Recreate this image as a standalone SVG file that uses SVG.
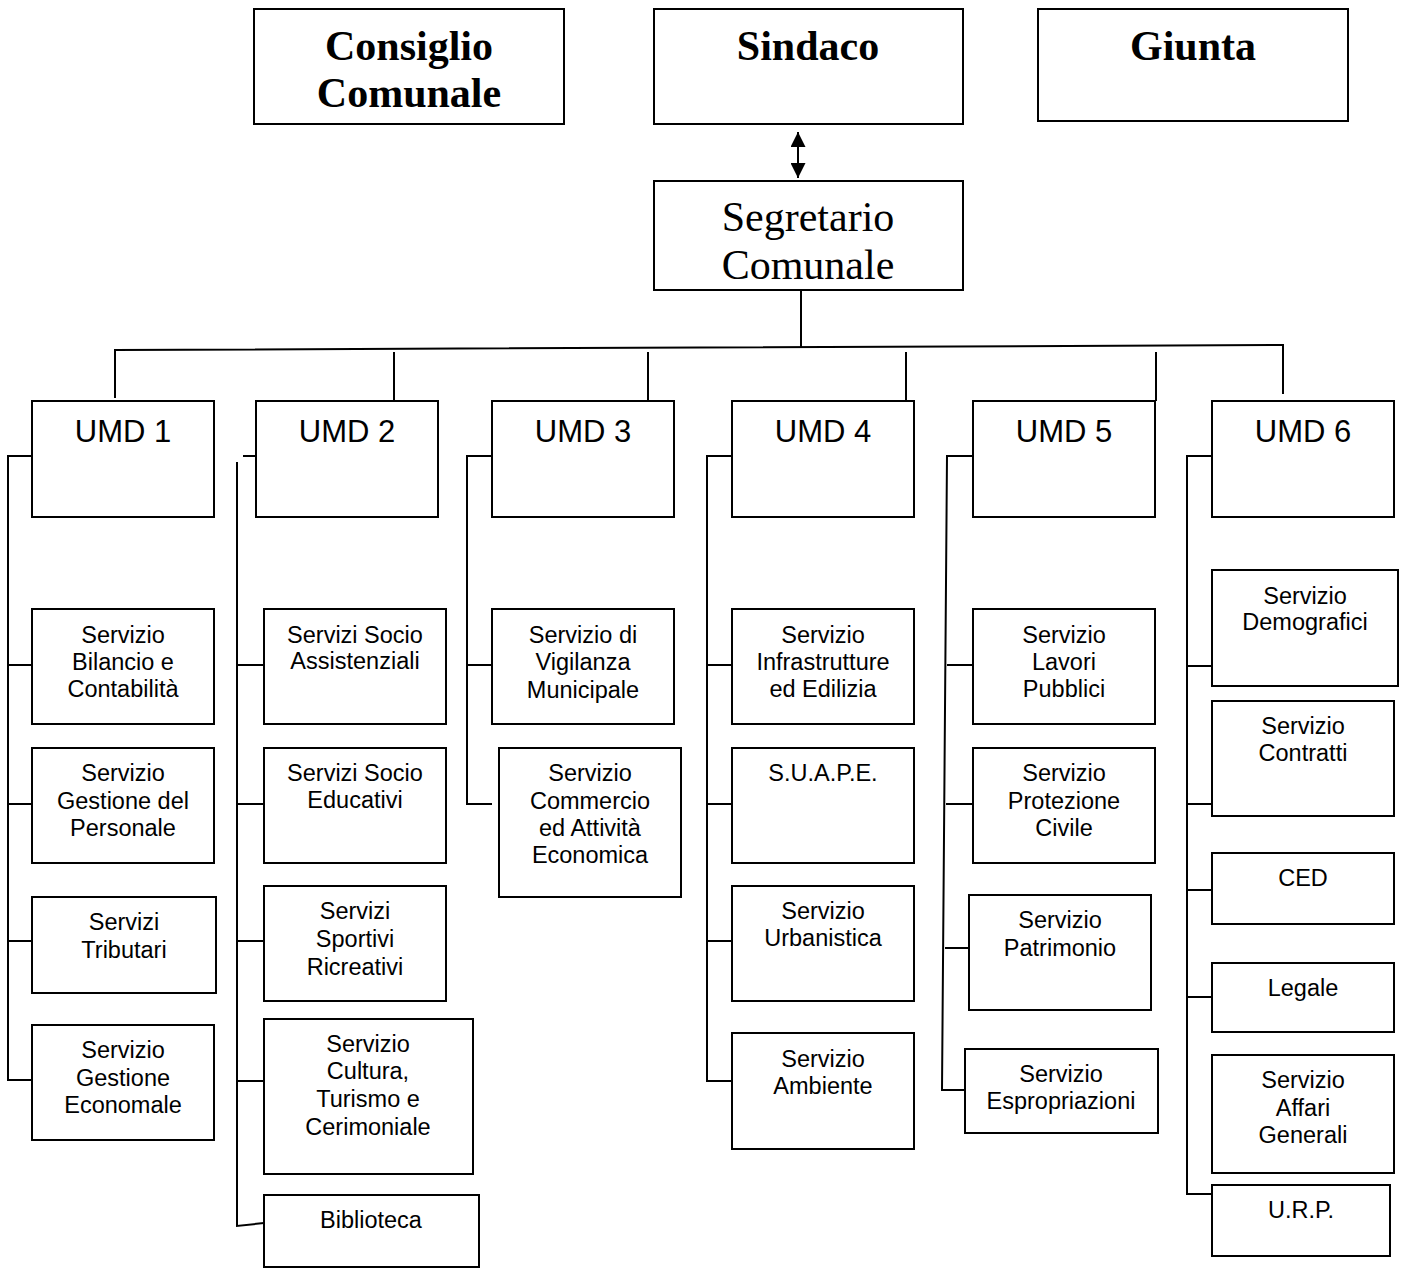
<svg xmlns="http://www.w3.org/2000/svg" width="1402" height="1268" viewBox="0 0 1402 1268">
<style>
.b{fill:#fff;stroke:#000;stroke-width:2}
.l{fill:none;stroke:#000;stroke-width:2}
.h{font-family:"Liberation Serif","Times New Roman",serif;font-size:42px;font-weight:bold;text-anchor:middle}
.s{font-family:"Liberation Serif","Times New Roman",serif;font-size:42px;text-anchor:middle}
.u{font-family:"Liberation Sans",Arial,sans-serif;font-size:31px;text-anchor:middle}
.t{font-family:"Liberation Sans",Arial,sans-serif;font-size:23.5px;text-anchor:middle}
</style>
<defs>
<marker id="ah" viewBox="0 0 10 10" refX="10" refY="5" markerWidth="15" markerHeight="15" markerUnits="userSpaceOnUse" orient="auto-start-reverse"><path d="M0,0 L10,5 L0,10 z" fill="#000"/></marker>
</defs>
<rect width="1402" height="1268" fill="#fff"/>
<g id="connectors">
<line class="l" x1="798" y1="132" x2="798" y2="178" marker-start="url(#ah)" marker-end="url(#ah)"/>
<line class="l" x1="801" y1="290" x2="801" y2="348"/>
<polyline class="l" points="115,398 115,350 1283,345 1283,394"/>
<line class="l" x1="394" y1="352" x2="394" y2="401"/>
<line class="l" x1="648" y1="352" x2="648" y2="401"/>
<line class="l" x1="906" y1="352" x2="906" y2="401"/>
<line class="l" x1="1156" y1="352" x2="1156" y2="401"/>
<polyline class="l" points="32,456 8,456 8,1080 32,1080"/>
<line class="l" x1="8" y1="665" x2="32" y2="665"/>
<line class="l" x1="8" y1="804" x2="32" y2="804"/>
<line class="l" x1="8" y1="941" x2="32" y2="941"/>
<line class="l" x1="243" y1="456" x2="270" y2="456"/>
<polyline class="l" points="237,462 237,1226 264,1223"/>
<line class="l" x1="237" y1="665" x2="264" y2="665"/>
<line class="l" x1="237" y1="804" x2="264" y2="804"/>
<line class="l" x1="237" y1="941" x2="264" y2="941"/>
<line class="l" x1="237" y1="1081" x2="264" y2="1081"/>
<polyline class="l" points="492,456 467,456 467,804 492,804"/>
<line class="l" x1="467" y1="665" x2="492" y2="665"/>
<polyline class="l" points="732,456 707,456 707,1081 732,1081"/>
<line class="l" x1="707" y1="665" x2="732" y2="665"/>
<line class="l" x1="707" y1="804" x2="732" y2="804"/>
<line class="l" x1="707" y1="941" x2="732" y2="941"/>
<polyline class="l" points="973,456 947,456 942,1090 965,1090"/>
<line class="l" x1="947" y1="665" x2="973" y2="665"/>
<line class="l" x1="946" y1="804" x2="973" y2="804"/>
<line class="l" x1="945" y1="948" x2="970" y2="948"/>
<polyline class="l" points="1212,456 1187,456 1187,1194 1212,1194"/>
<line class="l" x1="1187" y1="666" x2="1212" y2="666"/>
<line class="l" x1="1187" y1="804" x2="1212" y2="804"/>
<line class="l" x1="1187" y1="890" x2="1212" y2="890"/>
<line class="l" x1="1187" y1="997" x2="1212" y2="997"/>
</g>
<g id="consiglio"><rect class="b" x="254" y="9" width="310" height="115"/><text class="h" x="409" y="60">Consiglio</text><text class="h" x="409" y="107">Comunale</text></g>
<g id="sindaco"><rect class="b" x="654" y="9" width="309" height="115"/><text class="h" x="808" y="60">Sindaco</text></g>
<g id="giunta"><rect class="b" x="1038" y="9" width="310" height="112"/><text class="h" x="1193" y="60">Giunta</text></g>
<g id="segretario"><rect class="b" x="654" y="181" width="309" height="109"/><text class="s" x="808" y="231">Segretario</text><text class="s" x="808" y="279">Comunale</text></g>
<g id="umd1"><rect class="b" x="32" y="401" width="182" height="116"/><text class="u" x="123" y="442">UMD 1</text></g>
<g id="umd2"><rect class="b" x="256" y="401" width="182" height="116"/><text class="u" x="347" y="442">UMD 2</text></g>
<g id="umd3"><rect class="b" x="492" y="401" width="182" height="116"/><text class="u" x="583" y="442">UMD 3</text></g>
<g id="umd4"><rect class="b" x="732" y="401" width="182" height="116"/><text class="u" x="823" y="442">UMD 4</text></g>
<g id="umd5"><rect class="b" x="973" y="401" width="182" height="116"/><text class="u" x="1064" y="442">UMD 5</text></g>
<g id="umd6"><rect class="b" x="1212" y="401" width="182" height="116"/><text class="u" x="1303" y="442">UMD 6</text></g>

<g id="bilancio"><rect class="b" x="32" y="609" width="182" height="115"/><text class="t" x="123" y="643">Servizio</text><text class="t" x="123" y="670">Bilancio e</text><text class="t" x="123" y="697">Contabilità</text></g>
<g id="personale"><rect class="b" x="32" y="748" width="182" height="115"/><text class="t" x="123" y="781">Servizio</text><text class="t" x="123" y="809">Gestione del</text><text class="t" x="123" y="836">Personale</text></g>
<g id="tributari"><rect class="b" x="32" y="897" width="184" height="96"/><text class="t" x="124" y="930">Servizi</text><text class="t" x="124" y="958">Tributari</text></g>
<g id="economale"><rect class="b" x="32" y="1025" width="182" height="115"/><text class="t" x="123" y="1058">Servizio</text><text class="t" x="123" y="1086">Gestione</text><text class="t" x="123" y="1113">Economale</text></g>

<g id="assistenziali"><rect class="b" x="264" y="609" width="182" height="115"/><text class="t" x="355" y="643">Servizi Socio</text><text class="t" x="355" y="669">Assistenziali</text></g>
<g id="educativi"><rect class="b" x="264" y="748" width="182" height="115"/><text class="t" x="355" y="781">Servizi Socio</text><text class="t" x="355" y="808">Educativi</text></g>
<g id="sportivi"><rect class="b" x="264" y="886" width="182" height="115"/><text class="t" x="355" y="919">Servizi</text><text class="t" x="355" y="947">Sportivi</text><text class="t" x="355" y="975">Ricreativi</text></g>
<g id="cultura"><rect class="b" x="264" y="1019" width="209" height="155"/><text class="t" x="368" y="1052">Servizio</text><text class="t" x="368" y="1079">Cultura,</text><text class="t" x="368" y="1107">Turismo e</text><text class="t" x="368" y="1135">Cerimoniale</text></g>
<g id="biblioteca"><rect class="b" x="264" y="1195" width="215" height="72"/><text class="t" x="371" y="1228">Biblioteca</text></g>

<g id="vigilanza"><rect class="b" x="492" y="609" width="182" height="115"/><text class="t" x="583" y="643">Servizio di</text><text class="t" x="583" y="670">Vigilanza</text><text class="t" x="583" y="698">Municipale</text></g>
<g id="commercio"><rect class="b" x="499" y="748" width="182" height="149"/><text class="t" x="590" y="781">Servizio</text><text class="t" x="590" y="809">Commercio</text><text class="t" x="590" y="836">ed Attività</text><text class="t" x="590" y="863">Economica</text></g>

<g id="infrastrutture"><rect class="b" x="732" y="609" width="182" height="115"/><text class="t" x="823" y="643">Servizio</text><text class="t" x="823" y="670">Infrastrutture</text><text class="t" x="823" y="697">ed Edilizia</text></g>
<g id="suape"><rect class="b" x="732" y="748" width="182" height="115"/><text class="t" x="823" y="781">S.U.A.P.E.</text></g>
<g id="urbanistica"><rect class="b" x="732" y="886" width="182" height="115"/><text class="t" x="823" y="919">Servizio</text><text class="t" x="823" y="946">Urbanistica</text></g>
<g id="ambiente"><rect class="b" x="732" y="1033" width="182" height="116"/><text class="t" x="823" y="1067">Servizio</text><text class="t" x="823" y="1094">Ambiente</text></g>

<g id="lavori"><rect class="b" x="973" y="609" width="182" height="115"/><text class="t" x="1064" y="643">Servizio</text><text class="t" x="1064" y="670">Lavori</text><text class="t" x="1064" y="697">Pubblici</text></g>
<g id="protezione"><rect class="b" x="973" y="748" width="182" height="115"/><text class="t" x="1064" y="781">Servizio</text><text class="t" x="1064" y="809">Protezione</text><text class="t" x="1064" y="836">Civile</text></g>
<g id="patrimonio"><rect class="b" x="969" y="895" width="182" height="115"/><text class="t" x="1060" y="928">Servizio</text><text class="t" x="1060" y="956">Patrimonio</text></g>
<g id="espropriazioni"><rect class="b" x="965" y="1049" width="193" height="84"/><text class="t" x="1061" y="1082">Servizio</text><text class="t" x="1061" y="1109">Espropriazioni</text></g>

<g id="demografici"><rect class="b" x="1212" y="570" width="186" height="116"/><text class="t" x="1305" y="604">Servizio</text><text class="t" x="1305" y="630">Demografici</text></g>
<g id="contratti"><rect class="b" x="1212" y="701" width="182" height="115"/><text class="t" x="1303" y="734">Servizio</text><text class="t" x="1303" y="761">Contratti</text></g>
<g id="ced"><rect class="b" x="1212" y="853" width="182" height="71"/><text class="t" x="1303" y="886">CED</text></g>
<g id="legale"><rect class="b" x="1212" y="963" width="182" height="69"/><text class="t" x="1303" y="996">Legale</text></g>
<g id="affari"><rect class="b" x="1212" y="1055" width="182" height="118"/><text class="t" x="1303" y="1088">Servizio</text><text class="t" x="1303" y="1116">Affari</text><text class="t" x="1303" y="1143">Generali</text></g>
<g id="urp"><rect class="b" x="1212" y="1185" width="178" height="71"/><text class="t" x="1301" y="1218">U.R.P.</text></g>
</svg>
